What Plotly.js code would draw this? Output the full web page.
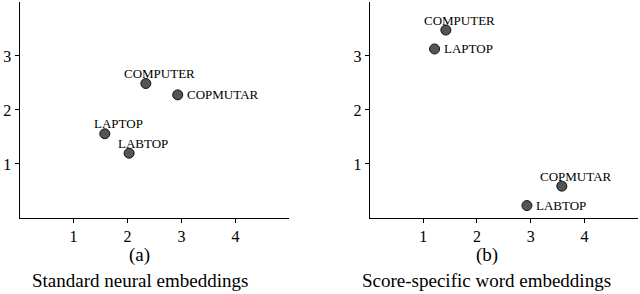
<!DOCTYPE html>
<html>
<head>
<meta charset="utf-8">
<script src="https://cdn.plot.ly/plotly-3.0.1.min.js"></script>
<style>html,body{margin:0;padding:0;background:#fff;}#chart{width:640px;height:294px;}</style>
</head>
<body>
<div id="chart"></div>
<script>
// Panel (a): standard neural embeddings
const wordsA = ["COMPUTER", "COPMUTAR", "LAPTOP", "LABTOP"];
const xA = [2.34, 2.93, 1.58, 2.03];
const yA = [2.49, 2.28, 1.56, 1.20];
const posA = ["top", "right", "top", "top"];

// Panel (b): score-specific word embeddings
const wordsB = ["COMPUTER", "LAPTOP", "COPMUTAR", "LABTOP"];
const xB = [1.42, 1.21, 3.58, 2.93];
const yB = [3.48, 3.13, 0.59, 0.23];
const posB = ["top", "right", "top", "right"];

const tickVals = [1, 2, 3, 4];
const tickText = ["1", "2", "3", "4"];
const captionA = ["(a)", "Standard neural embeddings"];
const captionB = ["(b)", "Score-specific word embeddings"];

const FONT = "'Liberation Serif', serif";
const marker = {size: 10, color: "#555555", line: {color: "#111111", width: 1}};

const traces = [
  {x: xA, y: yA, xaxis: "x", yaxis: "y", mode: "markers", type: "scatter", marker: marker, hoverinfo: "skip", showlegend: false},
  {x: xB, y: yB, xaxis: "x2", yaxis: "y2", mode: "markers", type: "scatter", marker: marker, hoverinfo: "skip", showlegend: false}
];

function labelAnn(words, xs, ys, pos, xref, yref) {
  return words.map((w, i) => {
    const top = pos[i] === "top";
    return {
      x: xs[i], y: ys[i], xref: xref, yref: yref, text: w, showarrow: false,
      xanchor: top ? "center" : "left", yanchor: "middle",
      xshift: top ? 14 : 7, yshift: top ? 10 : 0,
      font: {family: FONT, size: 13, color: "#000"}
    };
  });
}

const xDomA = [0.0305, 0.4523];
const xDomB = [0.5775, 0.997];
const yDom = [0.2585, 0.9932];

function xax(dom, anchor, extra) {
  return Object.assign({
    domain: dom, anchor: anchor, range: [0, 5], showgrid: false, zeroline: false,
    showline: true, linecolor: "#000", linewidth: 1,
    tickmode: "array", tickvals: tickVals, ticktext: tickText,
    ticks: "outside", ticklen: 4, tickwidth: 1, tickcolor: "#000",
    tickfont: {family: FONT, size: 16, color: "#000"}, fixedrange: true
  }, extra || {});
}
function yax(anchor, extra) {
  return Object.assign({
    domain: yDom, anchor: anchor, range: [0, 4], showgrid: false, zeroline: false,
    showline: true, linecolor: "#000", linewidth: 1,
    tickmode: "array", tickvals: [1, 2, 3], ticktext: ["1", "2", "3"],
    ticks: "outside", ticklen: 4, tickwidth: 1, tickcolor: "#000",
    tickfont: {family: FONT, size: 16, color: "#000"}, fixedrange: true
  }, extra || {});
}

const captions = [];
[[captionA, 0.218], [captionB, 0.7604]].forEach(([cap, cx]) => {
  captions.push({x: cx, y: 0.1327, xref: "paper", yref: "paper", text: cap[0], showarrow: false,
    xanchor: "center", yanchor: "middle", font: {family: FONT, size: 19, color: "#000"}});
  captions.push({x: cx, y: 0.0476, xref: "paper", yref: "paper", text: cap[1], showarrow: false,
    xanchor: "center", yanchor: "middle", font: {family: FONT, size: 19, color: "#000"}});
});

const layout = {
  width: 640, height: 294,
  margin: {l: 0, r: 0, t: 0, b: 0},
  paper_bgcolor: "#fff", plot_bgcolor: "#fff",
  showlegend: false,
  font: {family: FONT, color: "#000"},
  xaxis: xax(xDomA, "y"),
  yaxis: yax("x"),
  xaxis2: xax(xDomB, "y2"),
  yaxis2: yax("x2"),
  xaxis3: xax(xDomA, "y", {overlaying: "x", ticks: "inside", showticklabels: false, showline: false}),
  yaxis3: yax("x", {overlaying: "y", ticks: "inside", showticklabels: false, showline: false}),
  xaxis4: xax(xDomB, "y2", {overlaying: "x2", ticks: "inside", showticklabels: false, showline: false}),
  yaxis4: yax("x2", {overlaying: "y2", ticks: "inside", showticklabels: false, showline: false}),
  annotations: labelAnn(wordsA, xA, yA, posA, "x", "y")
    .concat(labelAnn(wordsB, xB, yB, posB, "x2", "y2"))
    .concat(captions)
};

Plotly.newPlot("chart", traces, layout, {staticPlot: true, displayModeBar: false});
</script>
</body>
</html>
